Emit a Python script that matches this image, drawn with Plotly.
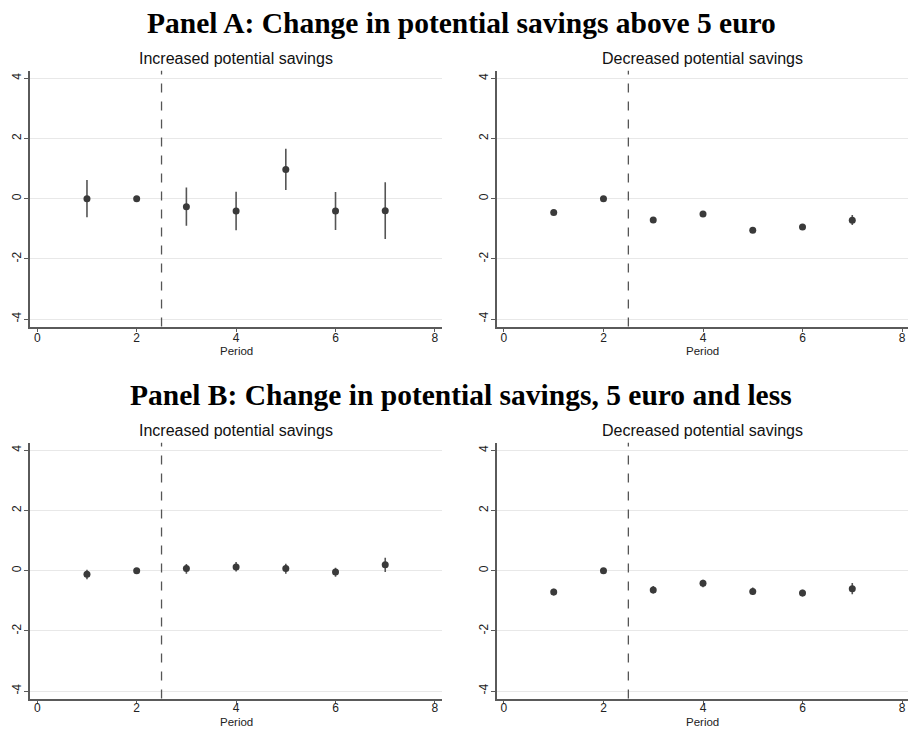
import plotly.graph_objects as go

# Event-study estimates by period, with 95% confidence bounds
periods = [1, 2, 3, 4, 5, 6, 7]

a_inc_est = [0.00, 0.00, -0.27, -0.41, 0.97, -0.41, -0.40]
a_inc_lo = [-0.62, 0.00, -0.90, -1.05, 0.29, -1.04, -1.34]
a_inc_hi = [0.62, 0.00, 0.37, 0.23, 1.66, 0.22, 0.55]

a_dec_est = [-0.46, 0.00, -0.71, -0.51, -1.05, -0.94, -0.72]
a_dec_lo = [-0.54, 0.00, -0.80, -0.61, -1.13, -1.02, -0.87]
a_dec_hi = [-0.38, 0.00, -0.61, -0.41, -0.97, -0.86, -0.54]

b_inc_est = [-0.12, 0.00, 0.07, 0.12, 0.07, -0.04, 0.20]
b_inc_lo = [-0.28, 0.00, -0.10, -0.03, -0.10, -0.20, -0.04]
b_inc_hi = [0.03, 0.00, 0.22, 0.29, 0.23, 0.10, 0.43]

b_dec_est = [-0.71, 0.00, -0.64, -0.42, -0.69, -0.74, -0.60]
b_dec_lo = [-0.82, 0.00, -0.76, -0.55, -0.81, -0.86, -0.78]
b_dec_hi = [-0.60, 0.00, -0.51, -0.30, -0.56, -0.63, -0.41]

treatment_cut = 2.5
y_ticks = [-4, -2, 0, 2, 4]
x_ticks = [0, 2, 4, 6, 8]

panel_titles = ["Panel A: Change in potential savings above 5 euro",
                "Panel B: Change in potential savings, 5 euro and less"]
sub_titles = ["Increased potential savings", "Decreased potential savings"]

W, H = 908, 729
MARK = "#3a3a3a"
AXIS = "#5a5a5a"
SANS = "Liberation Sans, Arial, sans-serif"
SERIF = "Liberation Serif, Times New Roman, serif"

panels = [
    (a_inc_est, a_inc_lo, a_inc_hi),
    (a_dec_est, a_dec_lo, a_dec_hi),
    (b_inc_est, b_inc_lo, b_inc_hi),
    (b_dec_est, b_dec_lo, b_dec_hi),
]

# plot-area domains in pixels: (left, right, top, bottom)
px_domains = [
    (29.8, 442.4, 70.8, 326.6),
    (496.5, 908.0, 70.8, 326.6),
    (29.8, 442.4, 442.8, 698.6),
    (496.5, 908.0, 442.8, 698.6),
]
x_ranges = [[-0.15, 8.15], [-0.15, 8.12], [-0.15, 8.15], [-0.15, 8.12]]
# per-panel spacing: x tick-label standoff and "Period" offset below the plot area
tick_standoffs = [-5, -5, -7, -7]
period_offsets = [24.5, 24.5, 23.0, 23.0]

fig = go.Figure()
layout = dict(
    width=W, height=H,
    margin=dict(l=0, r=0, t=0, b=0),
    paper_bgcolor="white", plot_bgcolor="white",
    showlegend=False,
    font=dict(family=SANS, color="#222"),
)
annotations = []
shapes = []

for i, ((est, lo, hi), (l, r, t, b), xr) in enumerate(zip(panels, px_domains, x_ranges)):
    k = "" if i == 0 else str(i + 1)
    xa, ya = "x" + k, "y" + k
    err_plus = [h - e for h, e in zip(hi, est)]
    err_minus = [e - lo_ for e, lo_ in zip(est, lo)]
    fig.add_trace(go.Scatter(
        x=periods, y=est, mode="markers", xaxis=xa, yaxis=ya,
        marker=dict(symbol="circle", size=7, color=MARK),
        error_y=dict(type="data", symmetric=False, array=err_plus,
                     arrayminus=err_minus, width=0, thickness=1.6, color="#555"),
        cliponaxis=False,
    ))
    layout["xaxis" + k] = dict(
        domain=[l / W, r / W], range=xr, anchor=ya,
        tickvals=x_ticks, ticks="outside", ticklen=4, tickcolor=AXIS, tickwidth=1.2,
        ticklabelstandoff=tick_standoffs[i],
        showline=True, linecolor=AXIS, linewidth=1.5, showgrid=False, zeroline=False,
        tickfont=dict(size=12, family=SANS, color="#222"),
    )
    layout["yaxis" + k] = dict(
        domain=[1 - b / H, 1 - t / H], range=[-4.25, 4.25], anchor=xa,
        tickvals=y_ticks, ticks="outside", ticklen=4, tickcolor=AXIS, tickwidth=1.2,
        ticklabelstandoff=-2,
        tickangle=-90, ticktext=[str(v) for v in y_ticks],
        showline=True, linecolor=AXIS, linewidth=1.5,
        showgrid=True, gridcolor="#e8e8e8", gridwidth=1, zeroline=False,
        tickfont=dict(size=12, family=SANS, color="#222"),
    )
    # treatment start marker
    shapes.append(dict(type="line", xref=xa, yref=ya + " domain",
                       x0=treatment_cut, x1=treatment_cut, y0=0, y1=1,
                       line=dict(color="#555", width=1.3, dash="dash")))
    # subplot title and x-axis label
    annotations.append(dict(text=sub_titles[i % 2], xref="paper", yref="paper",
                            x=(l + r) / 2 / W, y=1 - (t - 12.5) / H,
                            xanchor="center", yanchor="middle", showarrow=False,
                            font=dict(size=16, family=SANS, color="#111")))
    annotations.append(dict(text="Period", xref="paper", yref="paper",
                            x=(l + r) / 2 / W, y=1 - (b + period_offsets[i]) / H,
                            xanchor="center", yanchor="middle", showarrow=False,
                            borderpad=0,
                            font=dict(size=11.5, family=SANS, color="#222")))

for txt, yc in zip(panel_titles, [22.5, 394.5]):
    annotations.append(dict(text="<b>" + txt + "</b>", xref="paper", yref="paper",
                            x=461 / W, y=1 - yc / H, xanchor="center", yanchor="middle",
                            showarrow=False, font=dict(size=29.5, family=SERIF, color="#000")))

layout["annotations"] = annotations
layout["shapes"] = shapes
fig.update_layout(**layout)
fig.write_html("out.html")
